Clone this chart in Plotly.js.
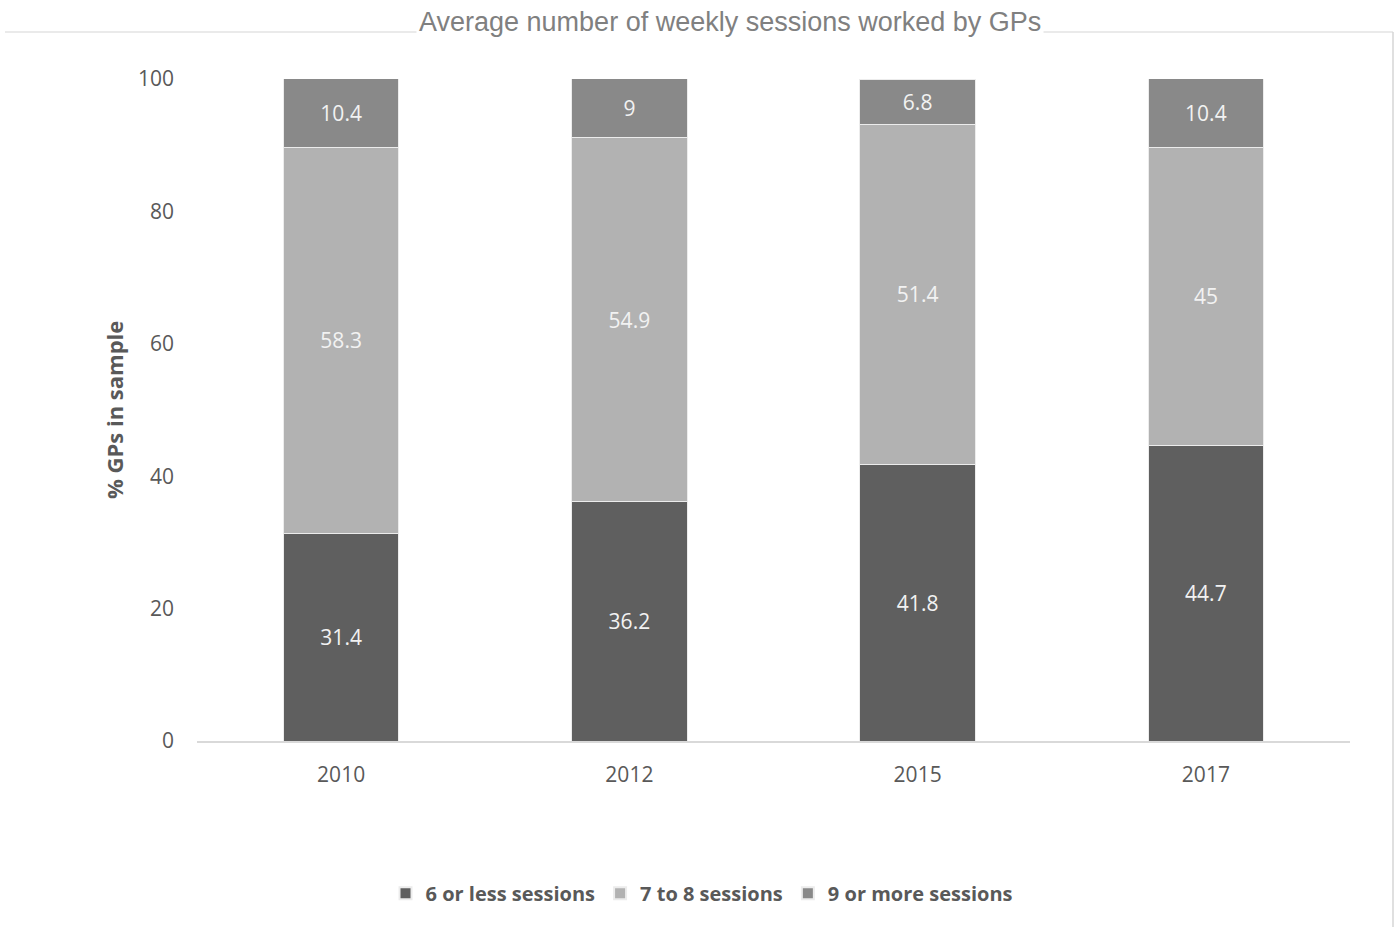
<!DOCTYPE html>
<html>
<head>
<meta charset="utf-8">
<script src="https://cdn.plot.ly/plotly-3.0.1.min.js"></script>
<style>
  html, body { margin: 0; padding: 0; background: #ffffff; }
  #chart { width: 1399px; height: 927px; }
</style>
</head>
<body>
<div id="chart"></div>
<script>
// Survey years and share of GPs (%) by weekly sessions worked
const years = ['2010', '2012', '2015', '2017'];
const sixOrLess = [31.4, 36.2, 41.8, 44.7];
const sevenToEight = [58.3, 54.9, 51.4, 45];
const nineOrMore = [10.4, 9, 6.8, 10.4];
const seriesNames = ['6 or less sessions', '7 to 8 sessions', '9 or more sessions'];
const yTicks = [0, 20, 40, 60, 80, 100];

const sans = 'Open Sans, Noto Sans, sans-serif';
const labelFont = { family: sans, size: 21, color: '#f2f2f2' };

function barTrace(name, values, color) {
  return {
    type: 'bar',
    name: name,
    x: years,
    y: values,
    text: values.map(v => String(v)),
    textposition: 'inside',
    insidetextanchor: 'middle',
    textfont: labelFont,
    textangle: 0,
    marker: { color: color, line: { color: '#ececec', width: 1 } },
    hoverinfo: 'x+y+name'
  };
}

const data = [
  barTrace(seriesNames[0], sixOrLess, '#5f5f5f'),
  barTrace(seriesNames[1], sevenToEight, '#b2b2b2'),
  barTrace(seriesNames[2], nineOrMore, '#898989')
];

const layout = {
  width: 1399,
  height: 927,
  margin: { l: 197, r: 49, t: 79, b: 186 },
  paper_bgcolor: '#ffffff',
  plot_bgcolor: '#ffffff',
  barmode: 'stack',
  bargap: 0.6,
  showlegend: true,
  legend: {
    orientation: 'h',
    x: 0.438,
    xanchor: 'center',
    y: -0.23,
    yanchor: 'middle',
    traceorder: 'normal',
    font: { family: sans, size: 20, color: '#595959', weight: 'bold' },
    itemwidth: 20,
    itemsizing: 'constant'
  },
  xaxis: {
    type: 'category',
    showgrid: false,
    showline: true,
    linecolor: '#d9d9d9',
    linewidth: 1.5,
    ticks: '',
    ticklabelstandoff: 14,
    tickfont: { family: sans, size: 21, color: '#595959' },
    fixedrange: true
  },
  yaxis: {
    range: [0, 100],
    tickvals: yTicks,
    ticktext: yTicks.map(String),
    showgrid: false,
    zeroline: false,
    showline: false,
    ticks: '',
    ticklabelstandoff: 22,
    tickfont: { family: sans, size: 21, color: '#595959' },
    fixedrange: true
  },
  annotations: [
    {
      text: 'Average number of weekly sessions worked by GPs',
      xref: 'paper', yref: 'paper',
      x: 0.4623, y: 1.0,
      xanchor: 'center', yanchor: 'bottom',
      yshift: 39,
      showarrow: false,
      font: { family: 'Liberation Sans, Arial, sans-serif', size: 27, color: '#808080' },
      bgcolor: '#ffffff',
      borderpad: 2
    },
    {
      text: '<b>% GPs in sample</b>',
      xref: 'paper', yref: 'paper',
      x: 0, y: 0.5,
      xanchor: 'center', yanchor: 'middle',
      xshift: -83,
      textangle: -90,
      showarrow: false,
      font: { family: sans, size: 22, color: '#595959' }
    }
  ],
  shapes: [
    // chart frame: top edge and right edge
    {
      type: 'line', xref: 'paper', yref: 'paper',
      x0: -0.1665, x1: 1.0373, y0: 1.0710, y1: 1.0710,
      line: { color: '#e3e3e3', width: 1.5 },
      layer: 'below'
    },
    {
      type: 'line', xref: 'paper', yref: 'paper',
      x0: 1.0373, x1: 1.0373, y0: 1.0710, y1: -0.29,
      line: { color: '#d6d6d6', width: 1.5 },
      layer: 'below'
    }
  ]
};

Plotly.newPlot('chart', data, layout, { displayModeBar: false, staticPlot: true });
</script>
</body>
</html>
